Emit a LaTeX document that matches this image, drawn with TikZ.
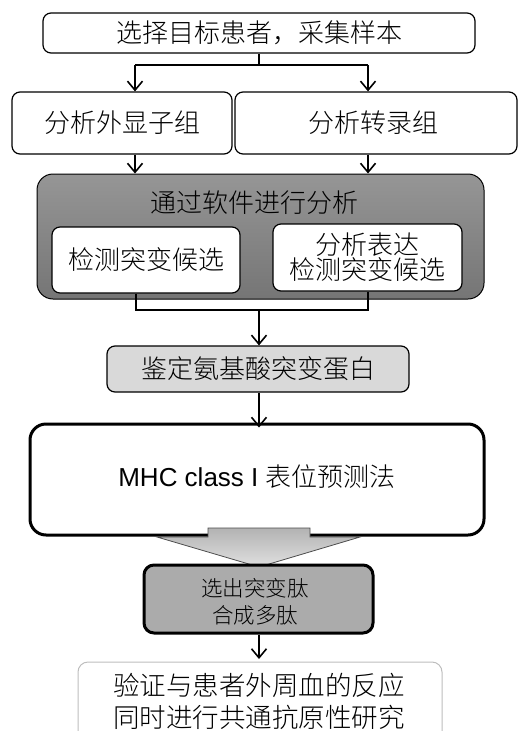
\documentclass[tikz,border=0pt]{standalone}
\usepackage{fontspec}
\setmainfont{Liberation Sans}
\newfontfamily\cjk{Noto Sans CJK SC Light}
\usetikzlibrary{arrows.meta}
\definecolor{dkgray}{HTML}{8A8A8A}
\definecolor{ltgray}{HTML}{D9D9D9}
\definecolor{midgray}{HTML}{ABABAB}
\definecolor{bordgray}{HTML}{BDBDBD}
\tikzset{
  box/.style={draw=black, line width=1.2pt, rounded corners=8pt, fill=white, inner sep=0pt, align=center},
  txt/.style={font=\cjk\fontsize{26}{25}\selectfont, inner sep=0pt, align=center},
  conn/.style={line width=1.6pt},
  arr/.style={line width=1.6pt, -{Straight Barb[length=9pt,width=15pt,line width=1.6pt]}},
}
\begin{document}
\begin{tikzpicture}[x=1pt,y=-1pt]
\useasboundingbox (0,0) rectangle (518,731);
% top box
\node[box, minimum width=432pt, minimum height=40pt] (top) at (259,33) {};
\node[txt] (toptxt) at (top.center) {选择目标患者，采集样本};
% second row
\node[box, minimum width=220pt, minimum height=62pt] (exo) at (122,123) {};
\node[txt] (exotxt) at (exo.center) {分析外显子组};
\node[box, minimum width=282pt, minimum height=62pt] (trn) at (376,123) {};
\node[txt] (trntxt) at (373,123) {分析转录组};
% connectors top -> row2
\coordinate (jl1) at (135,65);
\coordinate (jr1) at (368,65);
\draw[conn] (top.south) -- (top.south |- jl1);
\draw[conn] (jl1) -- (jr1);
\draw[arr] (jl1) -- (jl1 |- exo.north);
\draw[arr] (jr1) -- (jr1 |- trn.north);
% gray software box
\node[draw=black, line width=1pt, rounded corners=16pt, top color=dkgray!90!white, bottom color=dkgray!85!black, minimum width=447pt, minimum height=125pt, inner sep=0pt] (soft) at (260.5,236.5) {};
\node[txt] (softtxt) at (254,203) {通过软件进行分析};
\node[box, minimum width=188pt, minimum height=66pt] (inL) at (146,260) {};
\node[txt] (inLtxt) at (inL.center) {检测突变候选};
\node[box, minimum width=189pt, minimum height=67pt] (inR) at (367.5,257.5) {};
\node[txt] (inRtxt) at (inR.center) {分析表达\\检测突变候选};
% arrows row2 -> soft box
\draw[arr] (exo.south -| jl1) -- (soft.north -| jl1);
\draw[arr] (trn.south -| jr1) -- (soft.north -| jr1);
% join below
\coordinate (jl2) at (136,310);
\coordinate (jr2) at (368,310);
\coordinate (jm2) at (259,310);
\draw[conn] (inL.south -| jl2) -- (jl2) -- (jr2) -- (inR.south -| jr2);
% identify box
\node[draw=black, line width=1.2pt, rounded corners=8pt, fill=ltgray, minimum width=302pt, minimum height=46pt, inner sep=0pt] (ident) at (258,369) {};
\node[txt] (identtxt) at (ident.center) {鉴定氨基酸突变蛋白};
\draw[arr] (jm2) -- (ident.north -| jm2);
% MHC box
\node[draw=black, line width=3pt, rounded corners=16pt, fill=white, minimum width=454pt, minimum height=111pt, inner sep=0pt] (mhc) at (257,479.5) {};
\node[inner sep=0pt, font=\fontsize{26}{26}\selectfont] (mhctxt) at (257,477) {MHC class I {\cjk 表位预测法}};
\draw[arr] (ident.south -| jm2) -- ([yshift=-5pt]mhc.north -| jm2);
% big arrow
\draw[draw=black!70, line width=0.8pt, top color=black!30, bottom color=black!12]
  (208,528) -- (310,528) -- (310,537) -- (360,537) -- (259,567) -- (157,537) -- (208,537) -- cycle;
% peptide box
\node[draw=black, line width=3pt, rounded corners=10pt, fill=midgray, minimum width=229pt, minimum height=68pt, inner sep=0pt] (pep) at (258.5,599) {};
\node[font=\cjk\fontsize{21.5}{27}\selectfont, inner sep=0pt, align=center] (peptxt) at (255,601.5) {选出突变肽\\合成多肽};
\draw[arr] (pep.south -| jm2) -- (259,659);
% bottom box
\node[draw=bordgray, line width=1pt, rounded corners=10pt, fill=white, minimum width=364pt, minimum height=90pt, inner sep=0pt] (val) at (260,707) {};
\node[font=\cjk\fontsize{26.5}{32}\selectfont, inner sep=0pt, align=center] (valtxt) at (259,701) {验证与患者外周血的反应\\同时进行共通抗原性研究};
\end{tikzpicture}
\end{document}
